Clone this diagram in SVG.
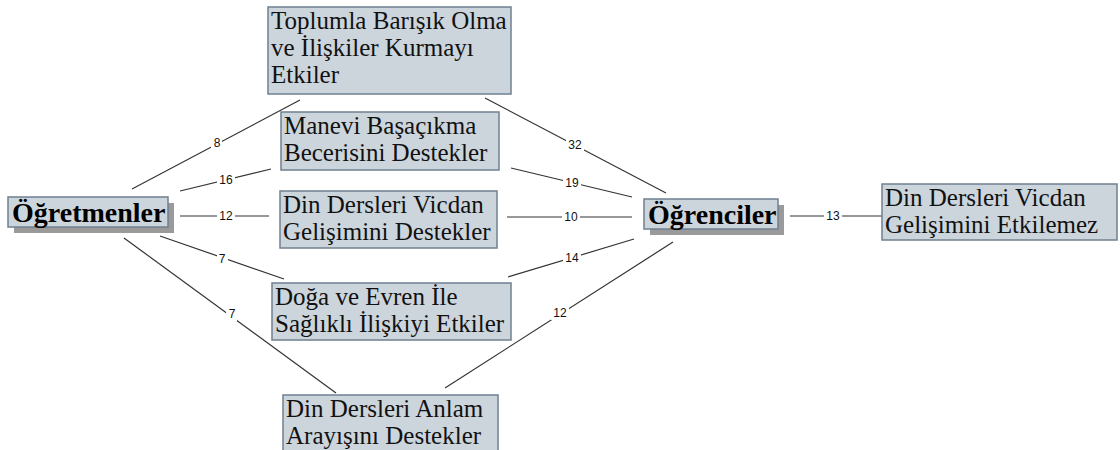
<svg xmlns="http://www.w3.org/2000/svg" width="1120" height="450" viewBox="0 0 1120 450">
<style>
.box{fill:#cdd5dc;stroke:#6f8090;stroke-width:1.5}
.shadow{fill:#9a9a9a}
.t{font-family:"Liberation Serif","Times New Roman",serif;font-size:25px;fill:#111}
.b{font-family:"Liberation Serif","Times New Roman",serif;font-size:28px;font-weight:bold;fill:#000}
.c{stroke:#333;stroke-width:1.2;fill:none}
.lb{fill:#fff}
.lt{font-family:"Liberation Sans",Arial,sans-serif;font-size:12px;fill:#111;text-anchor:middle;dominant-baseline:central}
</style>
<rect width="1120" height="450" fill="#fff"/>
<g id="connectors">
<line class="c" x1="132" y1="189" x2="300" y2="100"/>
<line class="c" x1="180" y1="191" x2="271" y2="169"/>
<line class="c" x1="180" y1="216" x2="269" y2="216"/>
<line class="c" x1="160" y1="236" x2="284" y2="279"/>
<line class="c" x1="124" y1="238" x2="336" y2="393"/>
<line class="c" x1="485" y1="98" x2="666" y2="193"/>
<line class="c" x1="511" y1="168" x2="632" y2="197"/>
<line class="c" x1="507" y1="217" x2="632" y2="217"/>
<line class="c" x1="508" y1="277" x2="634" y2="239"/>
<line class="c" x1="673" y1="242" x2="445" y2="388"/>
<line class="c" x1="790" y1="216" x2="882" y2="216"/>
<rect class="lb" x="211" y="136" width="11" height="14"/><text class="lt" x="217" y="143">8</text>
<rect class="lb" x="217" y="173" width="18" height="14"/><text class="lt" x="226" y="180">16</text>
<rect class="lb" x="217" y="209" width="18" height="14"/><text class="lt" x="226" y="216">12</text>
<rect class="lb" x="217" y="252" width="11" height="14"/><text class="lt" x="222" y="259">7</text>
<rect class="lb" x="226" y="307" width="11" height="14"/><text class="lt" x="232" y="314">7</text>
<rect class="lb" x="566" y="138" width="18" height="14"/><text class="lt" x="575" y="145">32</text>
<rect class="lb" x="563" y="176" width="18" height="14"/><text class="lt" x="572" y="183">19</text>
<rect class="lb" x="562" y="210" width="18" height="14"/><text class="lt" x="571" y="217">10</text>
<rect class="lb" x="563" y="251" width="18" height="14"/><text class="lt" x="572" y="258">14</text>
<rect class="lb" x="551" y="306" width="18" height="14"/><text class="lt" x="560" y="313">12</text>
<rect class="lb" x="824" y="209" width="18" height="14"/><text class="lt" x="833" y="216">13</text>
</g>
<g id="n-toplum">
<rect class="box" x="268" y="7" width="243" height="87"/>
<text class="t" x="271" y="29">Toplumla Barışık Olma</text>
<text class="t" x="271" y="56">ve İlişkiler Kurmayı</text>
<text class="t" x="271" y="83">Etkiler</text>
</g>
<g id="n-manevi">
<rect class="box" x="281" y="112" width="218" height="58"/>
<text class="t" x="284" y="134">Manevi Başaçıkma</text>
<text class="t" x="284" y="161">Becerisini Destekler</text>
</g>
<g id="n-vicdan">
<rect class="box" x="280" y="191" width="217" height="57"/>
<text class="t" x="283" y="213">Din Dersleri Vicdan</text>
<text class="t" x="283" y="240">Gelişimini Destekler</text>
</g>
<g id="n-doga">
<rect class="box" x="272" y="283" width="239" height="57"/>
<text class="t" x="275" y="305">Doğa ve Evren İle</text>
<text class="t" x="275" y="332">Sağlıklı İlişkiyi Etkiler</text>
</g>
<g id="n-anlam">
<rect class="box" x="283" y="395" width="215" height="60"/>
<text class="t" x="286" y="417">Din Dersleri Anlam</text>
<text class="t" x="286" y="444">Arayışını Destekler</text>
</g>
<g id="n-ogretmenler">
<rect class="shadow" x="14" y="203" width="160" height="30"/>
<rect class="box" x="8" y="197" width="160" height="30"/>
<text class="b" x="12" y="222">Öğretmenler</text>
</g>
<g id="n-ogrenciler">
<rect class="shadow" x="650" y="205" width="134" height="30"/>
<rect class="box" x="644" y="199" width="134" height="30"/>
<text class="b" x="648" y="224">Öğrenciler</text>
</g>
<g id="n-etkilemez">
<rect class="box" x="882" y="184" width="235" height="56"/>
<text class="t" x="885" y="206">Din Dersleri Vicdan</text>
<text class="t" x="885" y="233">Gelişimini Etkilemez</text>
</g>
</svg>
